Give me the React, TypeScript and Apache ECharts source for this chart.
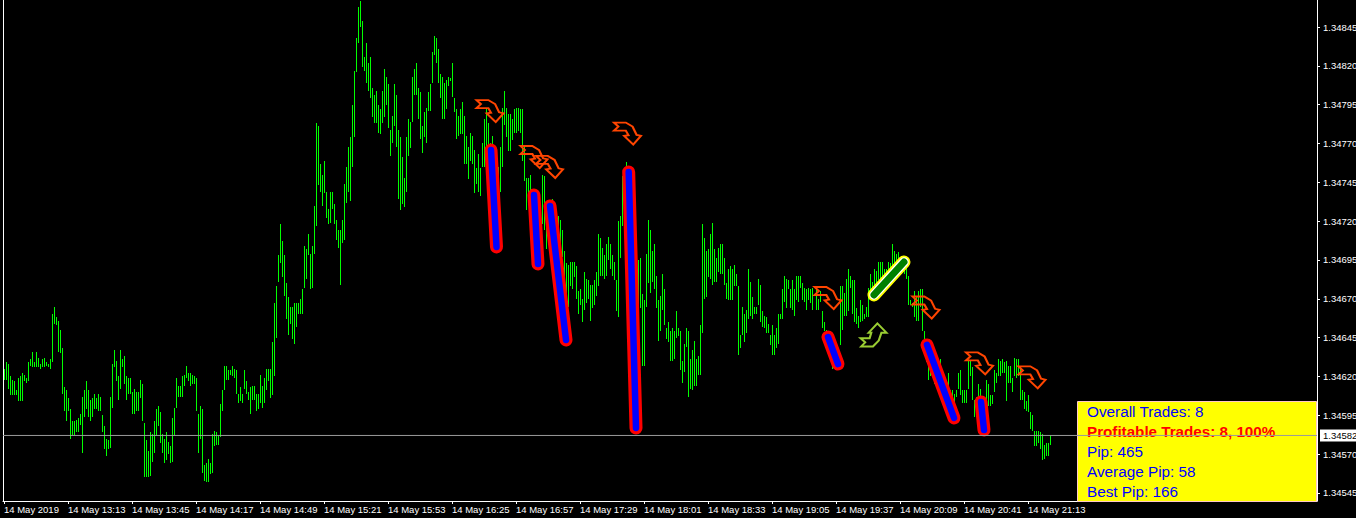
import React, { useEffect, useRef } from "react";
import * as echarts from "echarts";

const PRICE_BASE = 1.345;
const POINT = 0.00001;
const toPrice = (pts: number) => PRICE_BASE + pts * POINT;

// 1-minute bars [high, low], in points above PRICE_BASE, from 14 May 12:41.
const barRanges: number[][] = [
  [125,118],[129,118],[128,112],[120,108],[118,108],[117,108],[111,108],[119,104],[120,104],[122,104],
  [121,117],[119,116],[129,117],[131,127],[136,126],[129,126],[136,126],[132,126],[128,125],[131,126],
  [132,126],[129,127],[128,126],[131,125],[160,129],[165,154],[158,153],[156,136],[150,135],[138,109],
  [113,98],[111,91],[106,98],[99,80],[91,82],[91,82],[92,84],[93,84],[96,89],[107,71],
  [111,94],[117,99],[111,94],[105,91],[106,94],[109,99],[106,99],[109,98],[107,98],[95,84],
  [88,73],[80,69],[79,73],[107,74],[128,100],[137,126],[130,117],[120,105],[137,112],[131,126],
  [133,115],[120,105],[119,109],[119,109],[110,96],[112,96],[110,98],[110,98],[118,106],[115,91],
  [90,55],[79,55],[72,55],[84,56],[83,65],[91,71],[99,82],[101,88],[97,77],[83,71],
  [80,64],[84,66],[78,70],[75,64],[93,65],[100,82],[119,100],[114,107],[114,107],[120,107],
  [121,114],[127,119],[122,117],[122,114],[121,115],[120,115],[119,98],[96,71],[101,80],[99,58],
  [63,53],[64,52],[67,52],[64,57],[83,58],[85,75],[84,76],[82,76],[102,81],[111,98],
  [127,111],[127,118],[124,118],[124,121],[127,120],[125,119],[124,109],[109,103],[113,104],[109,103],
  [124,112],[117,109],[110,105],[113,96],[114,105],[114,105],[109,98],[109,99],[121,103],[114,100],
  [119,103],[125,111],[125,117],[125,106],[142,108],[167,120],[178,145],
  [198,181],[218,193],[207,184],[198,172],[180,157],[171,147],[165,154],[165,144],[167,141],[167,152],
  [167,160],[170,160],[176,160],
  [204,177],[202,183],[212,198],[199,176],[204,177],[230,199],[283,217],[281,243],[257,239],[250,230],
  [259,238],[239,222],[228,218],[239,219],[239,228],[231,218],[221,208],[214,203],[214,179],[221,206],
  [244,208],[255,232],[268,239],[274,233],[295,255],[317,274],[338,316],[358,335],[362,345],[349,319],
  [326,317],[335,309],[322,304],[326,299],[306,287],[301,283],[304,283],[295,277],[292,276],[304,283],
  [318,287],[313,295],[308,280],[279,262],[288,270],[308,281],[301,268],[279,234],[274,227],[261,231],
  [248,229],[274,239],[286,262],[284,267],[313,284],[318,301],[322,301],[306,286],[303,273],[281,264],
  [290,274],[293,270],[303,291],[308,291],[329,309],[339,327],[338,322],[331,309],[315,299],[313,286],
  [309,286],[311,292],[313,307],[312,310],[322,300],[299,290],[292,273],[288,275],[292,276],[297,276],
  [288,257],[275,257],[268,247],[277,259],[275,257],[266,238],[254,244],[263,239],[254,236],[270,255],
  [286,255],[292,262],[283,250],[270,240],[275,240],[260,235],[260,238],
  [255,239],[268,239],[293,255],[304,282],[293,274],[289,265],[289,265],[286,272],[292,277],[293,277],
  [293,278],[292,277],[292,259],[268,246],[248,227],[248,232],[250,236],[240,219],[238,212],[234,212],
  [223,201],[219,204],[250,218],[249,214],[220,202],[231,206],[230,212],[234,185],[219,188],[214,188],
  [223,197],[221,197],[214,197],[201,184],[193,165],[192,165],[194,178],[194,176],[194,184],[191,170],
  [175,160],[176,166],[170,155],[187,163],[183,167],[182,170],[179,156],[179,164],[182,166],[187,172],
  [212,178],[209,185],[203,185],[198,183],[205,185],[210,195],[205,189],[198,185],[194,182],[182,162],
  [220,158],[223,196],[249,217],[250,220],[258,205],[240,180],[230,170],[225,165],[220,160],[205,165],
  [195,163],[196,164],[173,127],[169,127],[199,165],[221,180],[214,174],[201,181],[205,176],[185,164],
  [169,143],[172,149],[186,163],[176,153],[151,144],[155,142],[149,130],[151,130],[149,131],[162,145],
  [151,146],[149,124],[130,116],[141,123],[151,139],[149,107],[131,112],[137,111],[143,114],[131,114],
  [133,121],[153,121],[218,148],[209,170],[201,171],[202,184],
  [212,183],[219,179],[202,181],[196,181],[203,187],[205,186],[205,186],[196,179],[180,170],[189,169],
  [191,169],[189,169],[192,178],[186,178],[178,134],[147,138],[165,147],[160,142],[163,148],[189,157],
  [181,159],[171,157],[165,160],[165,160],[183,166],[179,155],[162,152],[159,151],[158,148],[154,148],
  [147,140],[153,134],[147,134],[151,138],[160,141],[160,157],[176,157],[185,168],[183,164],[182,176],
  [176,164],[182,163],[176,159],[185,169],[185,168],[185,177],[180,169],[177,168],[176,163],[177,169],
  [176,167],[177,163],[173,172],[176,163],[170,163],[175,168],[162,151],[155,149],[150,146],[148,141],
  [146,135],[141,125],[139,126],[135,128],[133,126],[178,140],[178,150],[174,159],[183,159],[189,162],
  [185,177],[182,160],[182,155],[164,154],[159,151],[169,155],[166,156],[160,157],[165,158],[177,158],
  [186,172],[181,171],[189,174],[188,178],[194,182],[194,182],[194,183],[189,185],[189,185],[194,186],
  [193,186],[205,191],[201,193],[199,191],[200,192],[195,189],[193,190],[191,186],[191,183],[185,166],
  [169,166],[167,165],[175,158],[171,156],[175,156],[176,165],[176,149],[149,141],[141,129],
  [130,118],[124,120],[131,122],[130,115],[126,118],[123,113],[131,111],[120,109],[118,105],[111,103],
  [122,102],[111,105],[111,100],[109,99],[111,107],[122,112],[124,108],[111,103],[111,103],[111,103],
  [130,112],[130,120],[126,105],[105,94],[107,96],[115,96],[112,98],[100,90],[100,88],[118,94],
  [115,101],[108,101],[108,102],[124,110],[122,116],[131,120],[130,120],[131,122],[129,122],[130,104],
  [127,116],[127,116],[119,110],[132,120],[131,119],[131,120],[126,105],[111,105],[110,99],[104,98],
  [108,97],[97,86],[95,85],[85,75],[85,75],[85,77],[84,73],[83,66],[76,67],[77,69],
  [77,69],[82,76],
];

const priceTicks = [
  "1.34845", "1.34820", "1.34795", "1.34770", "1.34745", "1.34720", "1.34695",
  "1.34670", "1.34645", "1.34620", "1.34595", "1.34570", "1.34545",
];
const currentPrice = 1.34582;
const axisMin = 1.345398;
const axisMax = 1.348624;

const START_MINUTE = 12 * 60 + 41;
const MINUTE_SLOTS = 657;
const LABEL_EVERY = 32;
const LAST_LABEL = 512;
const DAY_LABEL = "14 May";
const FIRST_LABEL = "14 May 2019";

// Closed trades: [open minute index, open pts, close minute index, close pts]
const losingTrades: number[][] = [
  [243.5, 265.8, 246.25, 203.4],
  [265, 236.8, 267, 192.4],
  [273, 229.8, 281, 143.5],
  [312.35, 251.6, 316, 86.8],
  [412, 145.4, 417, 128],
  [461.5, 140.3, 475, 93.3],
  [488.5, 103.6, 490, 85.5],
];
const buyTrades: number[][] = [[435, 172.5, 450, 193.7]];

// Signal arrows: [minute index, pts]
const sellArrows: number[][] = [
  [243, 290.9], [265, 261.3], [272.75, 254.9], [311.75, 276.4],
  [412, 170.5], [461, 164.4], [487.75, 128.4], [514, 119.4],
];
const buyArrows: number[][] = [[434.75, 146.7]];

const panelLines = [
  "Overall Trades: 8",
  "Profitable Trades: 8, 100%",
  "Pip: 465",
  "Average Pip: 58",
  "Best Pip: 166",
];

const FONT = "'Liberation Sans', Arial, sans-serif";
const SELL_PATH = "path://M0 0L35 0L55 12L67 37L80 40L57 66L30 40L43 38L35 24L0 24L13 12Z";
const BUY_PATH = "path://M0 43L27 43L32 27L24 27L50 0L77 27L62 27L54 50L37 67L2 67L14 55Z";

const pad2 = (n: number) => String(n).padStart(2, "0");
const categories = Array.from({ length: MINUTE_SLOTS }, (_, i) => {
  const m = START_MINUTE + i;
  return i === 0 ? FIRST_LABEL : `${DAY_LABEL} ${pad2(Math.floor(m / 60))}:${pad2(m % 60)}`;
});
const isLabelled = (i: number) => i % LABEL_EVERY === 0 && i <= LAST_LABEL;

function tradeSeries(trades: number[][], color: string, width: number) {
  return trades.map((t) => ({
    type: "line",
    xAxisIndex: 1,
    silent: true,
    symbol: "none",
    z: 5,
    data: [[t[0], toPrice(t[1])], [t[2], toPrice(t[3])]],
    lineStyle: { color, width, cap: "round" },
  }));
}

export default function App() {
  const ref = useRef<HTMLDivElement>(null);
  useEffect(() => {
    document.body.style.margin = "0";
    document.body.style.background = "#000";
    const chart = echarts.init(ref.current!, null, { renderer: "svg" });
    const option: any = {
      animation: false,
      backgroundColor: "#000000",
      grid: { left: 3, right: 39, top: 0, bottom: 17, outerBoundsMode: "none", containLabel: false },
      xAxis: [
        {
          type: "category",
          data: categories,
          boundaryGap: true,
          axisLine: { lineStyle: { color: "#ffffff", width: 1 } },
          axisTick: { show: true, alignWithLabel: true, interval: (i: number) => isLabelled(i), length: 3, lineStyle: { color: "#ffffff" } },
          axisLabel: { interval: (i: number) => isLabelled(i), color: "#ffffff", fontFamily: FONT, fontSize: 9.5, align: "left", margin: 3 },
          splitLine: { show: false },
        },
        { type: "value", min: -0.5, max: MINUTE_SLOTS - 0.5, show: false },
      ],
      yAxis: [
        {
          type: "value",
          position: "right",
          min: axisMin,
          max: axisMax,
          axisLine: { show: true, onZero: false, lineStyle: { color: "#ffffff", width: 1 } },
          axisTick: { show: true, length: 3, customValues: priceTicks.map(Number), lineStyle: { color: "#ffffff" } },
          axisLabel: { color: "#ffffff", fontFamily: FONT, fontSize: 9.5, margin: 6, customValues: priceTicks.map(Number), formatter: (v: number) => v.toFixed(5) },
          splitLine: { show: false },
        },
        {
          type: "value",
          position: "left",
          min: axisMin,
          max: axisMax,
          axisLine: { show: true, onZero: false, lineStyle: { color: "#ffffff", width: 1 } },
          axisTick: { show: false },
          axisLabel: { show: false },
          splitLine: { show: false },
        },
      ],
      graphic: [
        {
          type: "rect",
          z: 1,
          shape: { x: 1077.5, y: 401.5, width: 239, height: 100 },
          style: { fill: "#ffff00", stroke: "#ffc8c8", lineWidth: 1 },
        },
        ...panelLines.map((text, i) => ({
          type: "text",
          z: 1,
          x: 1087,
          y: 411 + i * 20,
          style: {
            text,
            fill: i === 1 ? "#ff0000" : "#0000ff",
            font: `${i === 1 ? "bold 15.2px" : "15.3px"} ${FONT}`,
            verticalAlign: "middle",
          },
        })),
      ],
      series: [
        {
          type: "custom",
          silent: true,
          z: 2,
          progressive: 0,
          encode: { x: 0, y: [1, 2] },
          data: barRanges.map((b, i) => [i, toPrice(b[0]), toPrice(b[1])]),
          renderItem: (_p: any, api: any) => {
            const top = api.coord([api.value(0), api.value(1)]);
            const bottom = api.coord([api.value(0), api.value(2)]);
            const cx = Math.round(top[0]) + 0.5;
            return {
              type: "line",
              shape: { x1: cx, y1: Math.round(top[1]), x2: cx, y2: Math.round(bottom[1]) },
              style: { stroke: "#00ff00", lineWidth: 1 },
            };
          },
        },
        ...tradeSeries(losingTrades, "#ff0000", 13),
        ...tradeSeries(losingTrades, "#0000ff", 6.5),
        ...tradeSeries(buyTrades, "#ffff00", 13),
        ...tradeSeries(buyTrades, "#ffffff", 9.5),
        ...tradeSeries(buyTrades, "#008000", 7),
        {
          type: "scatter",
          xAxisIndex: 1,
          silent: true,
          z: 6,
          symbol: SELL_PATH,
          symbolSize: [27, 22],
          data: sellArrows.map((a) => [a[0], toPrice(a[1])]),
          itemStyle: { color: "rgba(0,0,0,0)", borderColor: "#ff4500", borderWidth: 2, opacity: 1 },
        },
        {
          type: "scatter",
          xAxisIndex: 1,
          silent: true,
          z: 6,
          symbol: BUY_PATH,
          symbolSize: [26, 23],
          data: buyArrows.map((a) => [a[0], toPrice(a[1])]),
          itemStyle: { color: "rgba(0,0,0,0)", borderColor: "#9acd32", borderWidth: 2, opacity: 1 },
        },
        {
          type: "line",
          xAxisIndex: 1,
          silent: true,
          symbol: "none",
          z: 7,
          data: [[-0.5, currentPrice], [MINUTE_SLOTS - 0.5, currentPrice]],
          lineStyle: { color: "#9a9a9a", width: 1, type: "solid" },
          endLabel: {
            show: true,
            distance: 3,
            formatter: () => currentPrice.toFixed(5),
            backgroundColor: "#ffffff",
            color: "#000000",
            fontFamily: FONT,
            fontSize: 9.5,
            padding: [1, 3, 1, 3],
          },
        },
      ],
    };
    chart.setOption(option);
    return () => chart.dispose();
  }, []);
  return <div ref={ref} style={{ position: "fixed", left: 0, top: 0, width: 1356, height: 518 }} />;
}
